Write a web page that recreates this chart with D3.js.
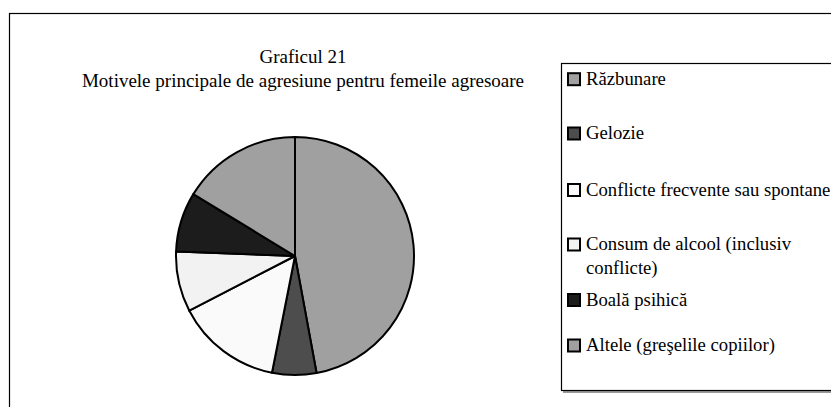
<!DOCTYPE html>
<html>
<head>
<meta charset="utf-8">
<script src="https://cdn.jsdelivr.net/npm/d3@7"></script>
<style>
  body { margin: 0; background: #fff; }
</style>
</head>
<body>
<div id="chart"></div>
<script>
// data (percent)
var categories = ["Răzbunare", "Gelozie", "Conflicte frecvente sau spontane",
                  "Consum de alcool (inclusiv conflicte)", "Boală psihică", "Altele (greşelile copiilor)"];
var values = [47.1, 6.0, 14.3, 8.2, 8.1, 16.3];
var fills = ["#a0a0a0", "#4d4d4d", "#fafafa", "#f2f2f2", "#1c1c1c", "#a0a0a0"];
var legendLines = [["Răzbunare"], ["Gelozie"], ["Conflicte frecvente sau spontane"],
                   ["Consum de alcool (inclusiv", "conflicte)"], ["Boală psihică"], ["Altele (greşelile copiilor)"]];
var titleLines = ["Graficul 21", "Motivele principale de agresiune pentru femeile agresoare"];

// legend layout: centre of each row (Excel spaces them unevenly)
var legendRowY = [78.7, 133, 189.5, 244, 299.5, 345];

var FONT = "'Liberation Serif', 'Times New Roman', 'DejaVu Serif', serif";

var W = 831, H = 407;
var svg = d3.select("#chart").append("svg")
    .attr("width", W)
    .attr("height", H)
    .style("display", "block");

// outer chart border (runs off the right/bottom edge)
svg.append("rect")
    .attr("x", 9.5).attr("y", 13.5)
    .attr("width", 840).attr("height", 420)
    .attr("fill", "#fff")
    .attr("stroke", "#000")
    .attr("stroke-width", 1.2);

// title
svg.append("g").selectAll("text")
  .data(titleLines)
  .enter().append("text")
    .attr("x", 303)
    .attr("y", function(d, i) { return 63 + i * 23.5; })
    .attr("text-anchor", "middle")
    .style("font-family", FONT)
    .style("font-size", "19px")
    .attr("fill", "#000")
    .text(function(d) { return d; });

// pie
var cx = 295, cy = 256, r = 119;
var pie = d3.pie().sort(null).value(function(d) { return d; });
var arc = d3.arc().innerRadius(0).outerRadius(r);

var g = svg.append("g").attr("transform", "translate(" + cx + "," + cy + ")");
g.selectAll("path")
  .data(pie(values))
  .enter().append("path")
    .attr("d", arc)
    .attr("fill", function(d, i) { return fills[i]; })
    .attr("stroke", "#000")
    .attr("stroke-width", 2)
    .attr("stroke-linejoin", "round");

// legend box with shadow
svg.append("rect")
    .attr("x", 563).attr("y", 65)
    .attr("width", 300).attr("height", 328)
    .attr("fill", "#9a9a9a");
svg.append("rect")
    .attr("x", 561.5).attr("y", 63.5)
    .attr("width", 300).attr("height", 327)
    .attr("fill", "#fff")
    .attr("stroke", "#000")
    .attr("stroke-width", 1.2);

var items = svg.append("g").selectAll("g")
  .data(categories)
  .enter().append("g")
    .attr("transform", function(d, i) { return "translate(0," + legendRowY[i] + ")"; });

items.append("rect")
    .attr("x", 568).attr("y", -5.5)
    .attr("width", 12).attr("height", 12)
    .attr("fill", function(d, i) { return fills[i]; })
    .attr("stroke", "#000")
    .attr("stroke-width", 2);

items.append("text")
    .attr("x", 586)
    .attr("y", 6.3)
    .style("font-family", FONT)
    .style("font-size", "18.7px")
    .attr("fill", "#000")
  .selectAll("tspan")
  .data(function(d, i) { return legendLines[i]; })
  .enter().append("tspan")
    .attr("x", 586)
    .attr("dy", function(d, j) { return j === 0 ? 0 : 24; })
    .text(function(d) { return d; });
</script>
</body>
</html>
